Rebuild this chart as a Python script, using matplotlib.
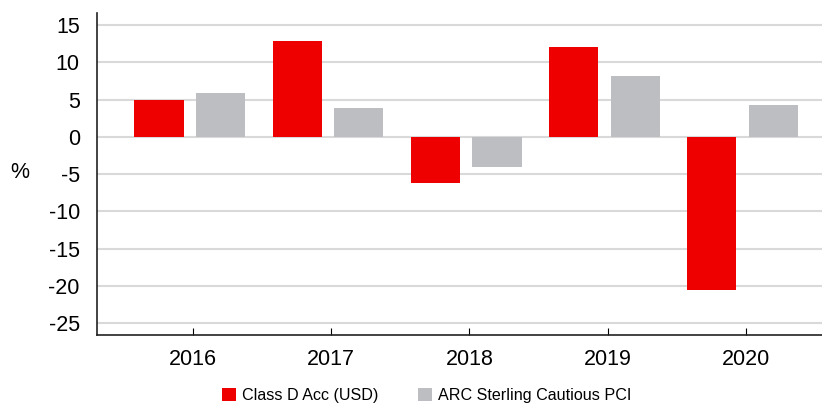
import numpy as np
import matplotlib.pyplot as plt

plt.rcParams['font.family'] = ['Liberation Sans', 'DejaVu Sans']
plt.rcParams['axes.unicode_minus'] = False

years = ["2016", "2017", "2018", "2019", "2020"]
fund = [5.0, 12.8, -6.2, 12.0, -20.5]
sector = [5.9, 3.9, -4.0, 8.1, 4.3]
labels = ["Class D Acc (USD)", "ARC Sterling Cautious PCI"]

red = "#EE0000"
grey = "#BDBEC2"

fig = plt.figure(figsize=(8.22, 4.05), dpi=100)
ax = fig.add_axes([0.1174, 0.1728, 0.8826, 0.7958])

x = np.arange(len(years))
w = 0.355
ax.bar(x - 0.246, fund, w, color=red, label=labels[0], zorder=3)
ax.bar(x + 0.199, sector, w, color=grey, label=labels[1], zorder=3)

ax.set_xlim(-0.698, 4.55)
ax.set_ylim(-26.6, 16.65)
ax.set_yticks(range(-25, 16, 5))
ax.set_xticks(x)
ax.set_xticklabels(years)
ax.yaxis.grid(True, color="#D9D9D9", linewidth=1.5, zorder=0)
ax.set_axisbelow(True)

for s in ["top", "right"]:
    ax.spines[s].set_visible(False)
ax.spines["left"].set_color("#222222")
ax.spines["bottom"].set_color("#222222")
ax.spines["left"].set_linewidth(1.2)
ax.spines["bottom"].set_linewidth(1.2)

ax.tick_params(axis="y", length=0, labelsize=15.5, pad=12)
ax.tick_params(axis="x", direction="in", length=5, labelsize=15.5, pad=10)

fig.text(0.024, 1 - 172 / 405, "%", fontsize=15.5, va="center", ha="center")

fig.legend(loc="center", bbox_to_anchor=(0.519, 0.024), ncol=2, frameon=False,
           fontsize=11.6, handlelength=0.85, handleheight=0.95, handletextpad=0.35,
           columnspacing=2.5)

fig.savefig("out.png", dpi=100)
